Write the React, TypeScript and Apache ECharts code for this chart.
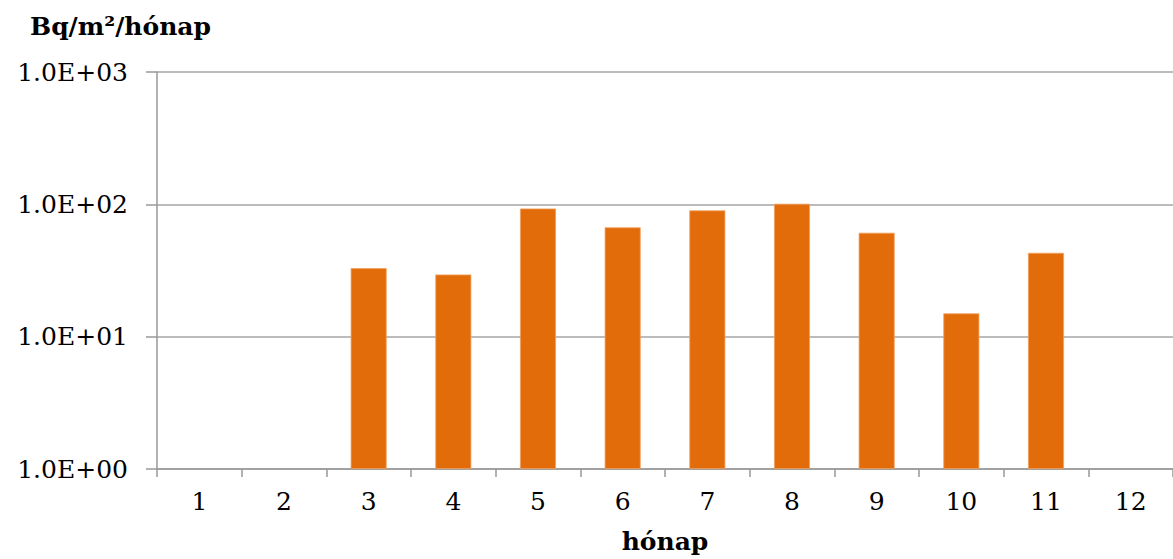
import React, { useEffect, useRef } from "react";
import * as echarts from "echarts";

const months = ["1", "2", "3", "4", "5", "6", "7", "8", "9", "10", "11", "12"];
const values: (number | null)[] = [null, null, 33, 29.5, 93, 67, 90, 101, 61, 15, 43, null];
const yTitle = "Bq/m²/hónap";
const xTitle = "hónap";

const FONT = "'DejaVu Serif', 'Liberation Serif', serif";

function fmt(v: number): string {
  const e = Math.round(Math.log10(v));
  const sign = e < 0 ? "-" : "+";
  const a = Math.abs(e);
  return "1.0E" + sign + (a < 10 ? "0" + a : String(a));
}

export default function App() {
  const ref = useRef<HTMLDivElement>(null);
  useEffect(() => {
    if (!ref.current) return;
    const chart = echarts.init(ref.current, undefined, { renderer: "svg" });
    chart.setOption({
      animation: false,
      backgroundColor: "#ffffff",
      title: {
        text: yTitle,
        left: 25,
        top: 9,
        textStyle: { fontFamily: FONT, fontWeight: "bold", fontSize: 25, color: "#000" },
      },
      grid: { left: 157, right: -21, top: 72, bottom: 85, containLabel: false },
      xAxis: {
        type: "category",
        data: months,
        name: xTitle,
        nameLocation: "middle",
        nameGap: 60,
        nameTextStyle: { fontFamily: FONT, fontWeight: "bold", fontSize: 25, color: "#000" },
        axisLine: { show: true, lineStyle: { color: "#999999", width: 1.5 } },
        axisTick: { show: true, length: 8, alignWithLabel: false, lineStyle: { color: "#999999", width: 1.5 } },
        axisLabel: { fontFamily: FONT, fontSize: 25, color: "#000", margin: 20 },
        splitLine: { show: false },
      },
      yAxis: {
        type: "log",
        logBase: 10,
        min: 1,
        max: 1000,
        axisLine: { show: true, lineStyle: { color: "#999999", width: 1.5 } },
        axisTick: { show: true, length: 11, inside: false, lineStyle: { color: "#999999", width: 1.5 } },
        axisLabel: {
          fontFamily: FONT,
          fontSize: 25,
          color: "#000",
          margin: 29,
          formatter: (v: number) => fmt(v),
        },
        splitLine: { show: true, lineStyle: { color: "#a6a6a6", width: 1.5 } },
        minorTick: { show: false },
      },
      series: [
        {
          type: "bar",
          data: values,
          barWidth: 36,
          itemStyle: { color: "#e36c0a", borderColor: "#f0a060", borderWidth: 0.8 },
        },
      ],
    });
    return () => chart.dispose();
  }, []);
  return (
    <div
      ref={ref}
      style={{ position: "absolute", left: 0, top: 0, width: 1173, height: 559 }}
    />
  );
}
